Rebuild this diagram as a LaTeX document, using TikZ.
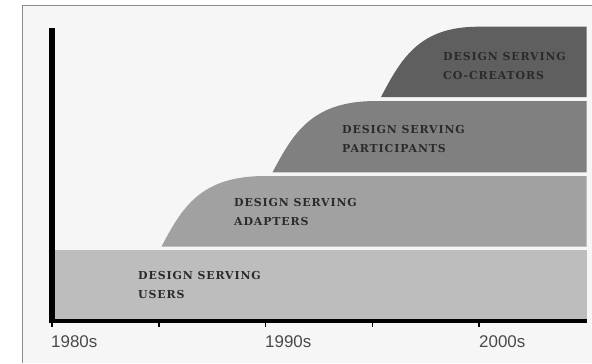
\documentclass[tikz,border=0pt]{standalone}
\usepackage{fontspec}
\setmainfont{Liberation Serif}
\newfontfamily\labelsans{Liberation Sans}
\newfontfamily\bandserif[LetterSpace=8]{DejaVu Serif}
\begin{document}
\begin{tikzpicture}[x=1bp,y=-1bp,
  bandtext/.style={anchor=north west,inner sep=0pt,align=left,text=bandink,
    font=\bandserif\bfseries\fontsize{11}{19.5}\selectfont},
  yearlabel/.style={anchor=base west,inner sep=0pt,text=yearink,
    font=\labelsans\fontsize{17}{20}\selectfont},
  tickmark/.style={draw=black,line width=1.3bp},
]
\definecolor{panel}{HTML}{F6F6F6}
\definecolor{framegray}{HTML}{8C8C8C}
\definecolor{usersfill}{HTML}{BDBDBD}
\definecolor{adaptersfill}{HTML}{A1A1A1}
\definecolor{participantsfill}{HTML}{808080}
\definecolor{cocreatorsfill}{HTML}{5F5F5F}
\definecolor{bandink}{HTML}{2B2B2B}
\definecolor{yearink}{HTML}{4A4A4A}

% canvas and panel frame
\useasboundingbox (0,0) rectangle (592,363);
\fill[white] (0,0) rectangle (592,363);
\fill[panel] (22.3,5.7) rectangle (592,363);
\draw[framegray,line width=1bp] (22.3,363) -- (22.3,5.7) -- (592,5.7);

% stacked bands
\fill[usersfill] (52,249.5) rectangle (586.5,321);
\fill[adaptersfill] (161.5,246.5) .. controls (182,208) and (200,176) .. (265,176)
  -- (586.5,176) -- (586.5,246.5) -- cycle;
\fill[participantsfill] (272.5,172.3) .. controls (293,134) and (311,101) .. (376,101)
  -- (586.5,101) -- (586.5,172.3) -- cycle;
\fill[cocreatorsfill] (381,97) .. controls (401,59) and (419,26.7) .. (478,26.7)
  -- (586.5,26.7) -- (586.5,97) -- cycle;

% band labels
\node[bandtext] (users) at (138,271) {DESIGN SERVING\\USERS};
\node[bandtext] (adapters) at (234,197.7) {DESIGN SERVING\\ADAPTERS};
\node[bandtext] (participants) at (342,125) {DESIGN SERVING\\PARTICIPANTS};
\node[bandtext] (cocreators) at (443,51.7) {DESIGN SERVING\\CO-CREATORS};

% axes
\draw[black,line width=5.5bp] (52,28.3) -- (52,323.3);
\draw[black,line width=4bp] (49.3,321.3) -- (586.7,321.3);
\foreach \tx in {52,159,265.7,372.3,479}
  \draw[tickmark] (\tx,321) -- (\tx,327);

% decade labels
\node[yearlabel] (y1980) at (51,347) {1980s};
\node[yearlabel] (y1990) at (265,347) {1990s};
\node[yearlabel] (y2000) at (479,347) {2000s};
\end{tikzpicture}
\end{document}
